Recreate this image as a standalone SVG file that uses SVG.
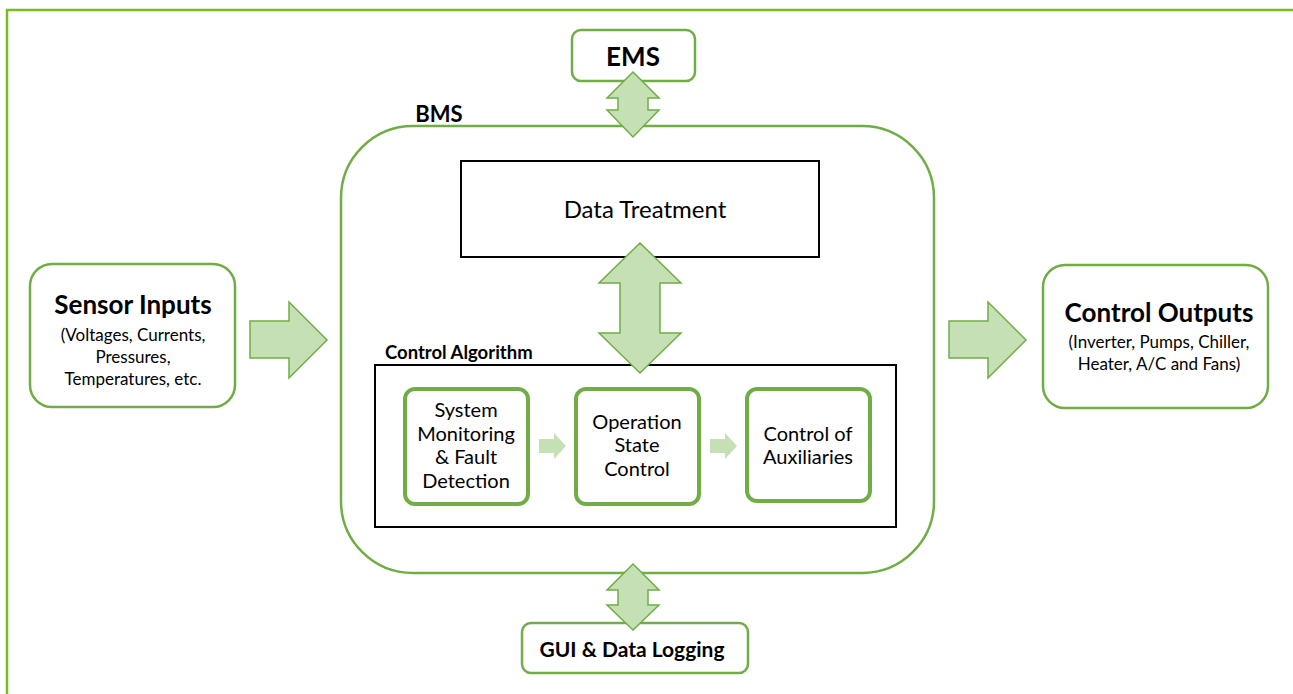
<svg xmlns="http://www.w3.org/2000/svg" width="1293" height="694" viewBox="0 0 1293 694">
<style>
.gbox{fill:#fff;stroke:#70ad47;stroke-width:2.5}
.ibox{fill:#fff;stroke:#70ad47;stroke-width:4}
.kbox{fill:#fff;stroke:#000;stroke-width:2}
.arr{fill:#c5e0b4;stroke:#70ad47;stroke-width:1.5;stroke-linejoin:miter}
.sarr{fill:#c5e0b4;stroke:none}
text{font-family:Lato,"Open Sans","Liberation Sans",sans-serif;fill:#000;text-anchor:middle}
.b{font-weight:bold}
</style>
<rect x="0" y="0" width="1293" height="694" fill="#fff"/>
<rect x="7" y="10" width="1310" height="720" fill="none" stroke="#7cbb1c" stroke-width="2.5"/>

<g id="bms">
<rect class="gbox" x="341" y="126" width="593" height="447" rx="72" ry="72"/>
<text class="b" x="439" y="122" font-size="22">BMS</text>
</g>

<g id="ems">
<rect class="gbox" x="572" y="30" width="123" height="51" rx="9"/>
<text class="b" x="633" y="66" font-size="26">EMS</text>
</g>

<g id="data-treatment">
<rect class="kbox" x="461" y="161" width="358" height="96"/>
<text x="645" y="218" font-size="24">Data Treatment</text>
</g>

<g id="control-algorithm">
<text class="b" x="385" y="359" font-size="18.5" style="text-anchor:start">Control Algorithm</text>
<rect class="kbox" x="375" y="365" width="521" height="162"/>
</g>

<g id="system-monitoring">
<rect class="ibox" x="405" y="389" width="123" height="115" rx="10"/>
<text x="466" y="417" font-size="20">System</text>
<text x="466" y="441" font-size="20">Monitoring</text>
<text x="466" y="464" font-size="20">&amp; Fault</text>
<text x="466" y="488" font-size="20">Detection</text>
</g>

<g id="operation-state">
<rect class="ibox" x="576" y="389" width="123" height="115" rx="10"/>
<text x="637" y="429" font-size="20">Operation</text>
<text x="637" y="452" font-size="20">State</text>
<text x="637" y="476" font-size="20">Control</text>
</g>

<g id="control-aux">
<rect class="ibox" x="747" y="389" width="123" height="112" rx="10"/>
<text x="808" y="441" font-size="20">Control of</text>
<text x="808" y="464" font-size="20">Auxiliaries</text>
</g>

<g id="sensor-inputs">
<rect class="gbox" x="30" y="264" width="205" height="143" rx="22"/>
<text class="b" x="133" y="314" font-size="26">Sensor Inputs</text>
<text x="133" y="341" font-size="17">(Voltages, Currents,</text>
<text x="133" y="363" font-size="17">Pressures,</text>
<text x="133" y="385" font-size="17">Temperatures, etc.</text>
</g>

<g id="control-outputs">
<rect class="gbox" x="1043" y="265" width="225" height="143" rx="22"/>
<text class="b" x="1159" y="322" font-size="26">Control Outputs</text>
<text x="1159" y="348" font-size="17">(Inverter, Pumps, Chiller,</text>
<text x="1159" y="370" font-size="17">Heater, A/C and Fans)</text>
</g>

<g id="gui">
<rect class="gbox" x="522" y="623" width="226" height="50" rx="9"/>
<text class="b" x="632" y="657" font-size="21">GUI &amp; Data Logging</text>
</g>

<g id="connectors">
<polygon class="arr" points="250,321 289,321 289,302 327,340 289,378 289,358 250,358"/>
<polygon class="arr" points="949,321 988,321 988,302 1026,340 988,378 988,358 949,358"/>
<polygon class="arr" points="633,72 659,98 648,98 648,110 659,110 633,137 607,110 618,110 618,98 607,98"/>
<polygon class="arr" points="633,564 659,590 648,590 648,605 659,605 633,630 607,605 618,605 618,590 607,590"/>
<polygon class="arr" points="640,243 681,283 660,283 660,333 681,333 640,373 599,333 620,333 620,283 599,283"/>
<polygon class="sarr" points="539,439 554,439 554,433 566,446 554,459 554,453 539,453"/>
<polygon class="sarr" points="710,439 725,439 725,433 737,446 725,459 725,453 710,453"/>
</g>
</svg>
